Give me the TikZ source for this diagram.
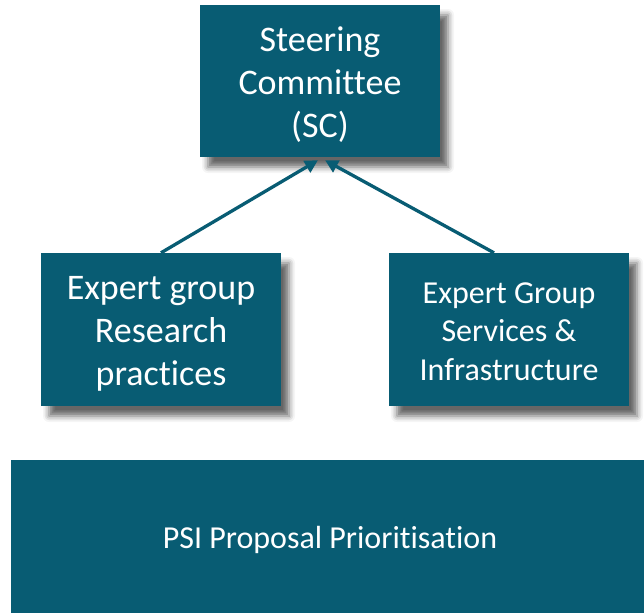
\documentclass[tikz,border=0pt]{standalone}
\usepackage{fontspec}
\setmainfont[Ligatures=NoCommon]{Carlito}
\usetikzlibrary{arrows.meta,shadows.blur}
\definecolor{teal}{HTML}{085C73}
\tikzset{
  box/.style={fill=teal, inner sep=0pt, draw=none,
    blur shadow={shadow xshift=8pt, shadow yshift=-10pt, shadow blur radius=6pt, shadow opacity=60}},
  lbl/.style={text=white, inner sep=0pt, align=center},
  bigtext/.style={font={\fontsize{36}{43}\selectfont}},
  smalltext/.style={font={\fontsize{32}{38.5}\selectfont}},
  conn/.style={draw=teal, line width=3.3pt, -{Triangle[length=13pt,width=13pt]}}
}
\begin{document}
\begin{tikzpicture}[x=1pt,y=1pt]
\useasboundingbox (0,0) rectangle (644,-613);
\node[box, minimum width=240pt, minimum height=152pt] (sc) at (320,-81) {};
\node[box, minimum width=240pt, minimum height=153pt] (rp) at (161,-329.5) {};
\node[box, minimum width=240pt, minimum height=153pt] (si) at (509,-329.5) {};
\node[fill=teal, inner sep=0pt, minimum width=634pt, minimum height=153pt] (psi) at (328,-536.5) {};
\node[lbl, bigtext] (sct) at ([yshift=-4pt]sc.center) {Steering\\Committee\\(SC)};
\node[lbl, bigtext] (rpt) at ([yshift=-4pt]rp.center) {Expert group\\Research\\practices};
\node[lbl, smalltext] (sit) at ([yshift=-2pt]si.center) {Expert Group\\Services \&\\Infrastructure};
\node[lbl, smalltext] (psit) at ([xshift=2pt,yshift=-3pt]psi.center) {PSI Proposal Prioritisation};
\draw[conn] (rp.north) -- ([xshift=-2pt,yshift=-3pt]sc.south);
\draw[conn] ([xshift=-15pt]si.north) -- ([xshift=5pt,yshift=-3pt]sc.south);
\end{tikzpicture}
\end{document}
